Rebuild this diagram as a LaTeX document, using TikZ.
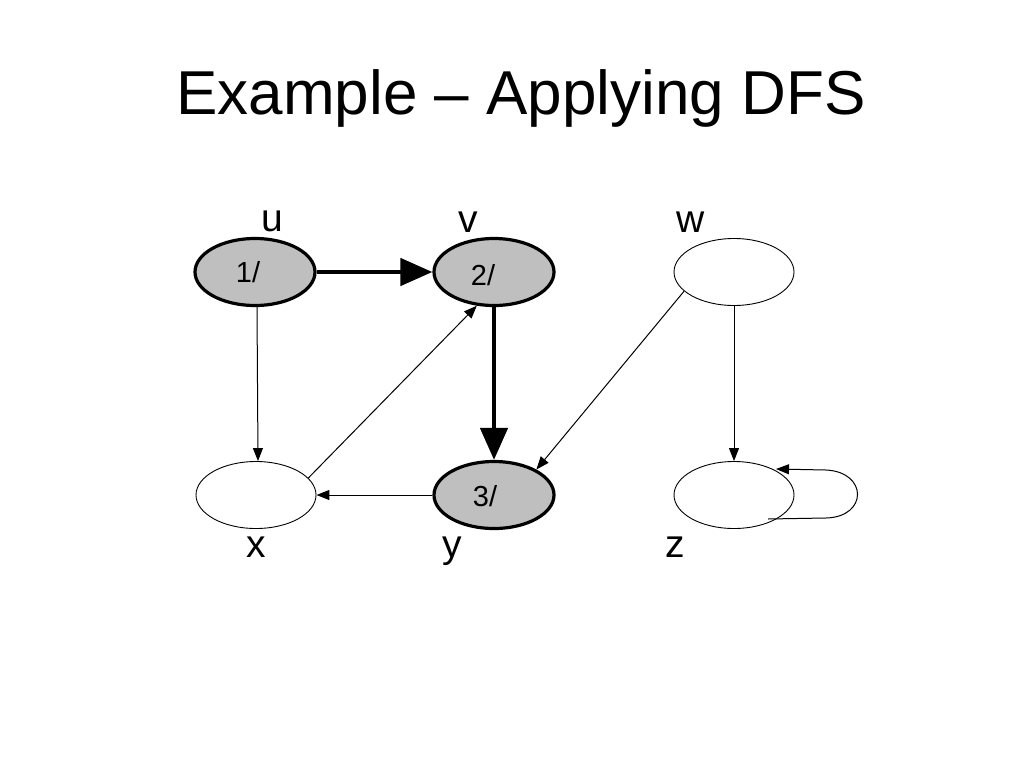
\documentclass[tikz,border=0pt]{standalone}
\usepackage{fontspec}
\setmainfont{Liberation Sans}
\usetikzlibrary{shapes.geometric,arrows.meta}
\begin{document}
\begin{tikzpicture}[x=1pt,y=-1pt,
  vert/.style={ellipse,draw,minimum width=120pt,minimum height=67pt,inner sep=0pt,line width=0.9pt,fill=white},
  visited/.style={vert,line width=3.2pt,fill=gray!50},
  nlabel/.style={font=\fontsize{29}{32}\selectfont,inner sep=0pt,anchor=base},
  vlabel/.style={font=\fontsize{39}{44}\selectfont,inner sep=0pt,anchor=base},
  thinedge/.style={line width=1pt,-{Triangle[length=13pt,width=10pt]}},
  thickedge/.style={line width=4.6pt,-{Triangle[length=32pt,width=27pt]}}]
\useasboundingbox (0,0) rectangle (1024,768);
\node[font=\fontsize{62}{70}\selectfont,inner sep=0pt] (title) at (521,98) {Example – Applying DFS};
\node[visited] (u) at (255,272) {};
\node[visited] (v) at (494,272) {};
\node[vert] (w) at (734,272) {};
\node[vert] (x) at (256,495) {};
\node[visited] (y) at (494,495) {};
\node[vert] (z) at (734,495) {};
\node[nlabel] (ut) at (248,282) {1/};
\node[nlabel] (vt) at (483,285) {2/};
\node[nlabel] (yt) at (485,506) {3/};
\node[vlabel] (lu) at (272,231) {u};
\node[vlabel] (lv) at (468,232) {v};
\node[vlabel] (lw) at (691,232) {w};
\node[vlabel] (lx) at (256,557) {x};
\node[vlabel] (ly) at (452,557) {y};
\node[vlabel] (lz) at (675,557) {z};
\draw[thickedge] (u.east) -- (v.west);
\draw[thickedge] (v.south) -- (y.north);
\draw[thinedge] ([xshift=2pt]u.south) -- ([xshift=2pt]x.north);
\draw[thinedge] (x.18) -- (v.-117);
\draw[thinedge] (y.west) -- (x.east);
\draw[thinedge] (w.-159) -- (y.31);
\draw[thinedge] (w.south) -- (z.north);
\coordinate (zs) at ([shift={(34,24)}]z.center);
\coordinate (ze) at ([shift={(42,-26)}]z.center);
\draw[thinedge] (zs) -- (826,518) .. controls (868,517) and (868,472) .. (826,470) -- (ze);
\end{tikzpicture}
\end{document}
